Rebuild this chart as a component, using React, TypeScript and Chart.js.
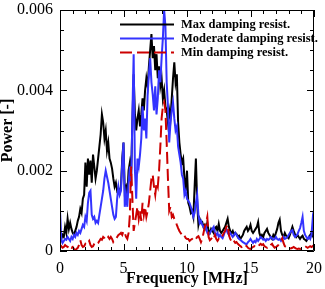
import React, { useEffect, useRef } from "react";
import { Chart, registerables } from "chart.js";

Chart.register(...registerables);

// Frequency samples [MHz]
const FREQ_MHZ = [
  0.0, 0.1, 0.2, 0.3, 0.4, 0.5, 0.6, 0.7, 0.8, 0.9,
  1.0, 1.1, 1.2, 1.3, 1.4, 1.5, 1.6, 1.7, 1.8, 1.9,
  2.0, 2.1, 2.2, 2.3, 2.4, 2.5, 2.6, 2.7, 2.8, 2.9,
  3.0, 3.1, 3.2, 3.3, 3.4, 3.5, 3.6, 3.7, 3.8, 3.9,
  4.0, 4.1, 4.2, 4.3, 4.4, 4.5, 4.6, 4.7, 4.8, 4.9,
  5.0, 5.1, 5.2, 5.3, 5.4, 5.5, 5.6, 5.7, 5.8, 5.9,
  6.0, 6.1, 6.2, 6.3, 6.4, 6.5, 6.6, 6.7, 6.8, 6.9,
  7.0, 7.1, 7.2, 7.3, 7.4, 7.5, 7.6, 7.7, 7.8, 7.9,
  8.0, 8.1, 8.2, 8.3, 8.4, 8.5, 8.6, 8.7, 8.8, 8.9,
  9.0, 9.1, 9.2, 9.3, 9.4, 9.5, 9.6, 9.7, 9.8, 9.9,
  10.0, 10.1, 10.2, 10.3, 10.4, 10.5, 10.6, 10.7, 10.8, 10.9,
  11.0, 11.1, 11.2, 11.3, 11.4, 11.5, 11.6, 11.7, 11.8, 11.9,
  12.0, 12.1, 12.2, 12.3, 12.4, 12.5, 12.6, 12.7, 12.8, 12.9,
  13.0, 13.1, 13.2, 13.3, 13.4, 13.5, 13.6, 13.7, 13.8, 13.9,
  14.0, 14.1, 14.2, 14.3, 14.4, 14.5, 14.6, 14.7, 14.8, 14.9,
  15.0, 15.1, 15.2, 15.3, 15.4, 15.5, 15.6, 15.7, 15.8, 15.9,
  16.0, 16.1, 16.2, 16.3, 16.4, 16.5, 16.6, 16.7, 16.8, 16.9,
  17.0, 17.1, 17.2, 17.3, 17.4, 17.5, 17.6, 17.7, 17.8, 17.9,
  18.0, 18.1, 18.2, 18.3, 18.4, 18.5, 18.6, 18.7, 18.8, 18.9,
  19.0, 19.1, 19.2, 19.3, 19.4, 19.5, 19.6, 19.7, 19.8, 19.9,
  20.0,
];

// Power values in units of 1e-3 [-]
const MAX_DAMPING = [
  0.45, 0.3, 0.4, 0.35, 0.6, 0.45, 0.8, 0.55, 0.7, 0.55,
  0.45, 0.4, 0.5, 0.6, 0.75, 0.85, 1.05, 0.95, 1.3, 1.4,
  2.2, 1.6, 2.3, 1.9, 2.25, 1.7, 2.4, 2.1, 1.8, 2.0,
  2.3, 2.6, 2.9, 3.4, 3.2, 2.8, 3.0, 2.5, 2.7, 2.3,
  2.2, 2.05, 1.8, 1.6, 1.7, 1.5, 1.55, 1.45, 1.6, 2.3,
  2.7, 1.5, 1.6, 1.4, 2.0, 2.2, 1.9, 3.2, 4.4, 3.4,
  3.0, 3.3, 3.5, 3.1, 3.4, 3.8, 3.5, 4.0, 4.3, 4.1,
  4.6, 5.0, 5.4, 4.8, 5.1, 4.5, 4.9, 4.3, 4.6, 4.1,
  4.3, 3.8, 4.0, 3.6, 3.5, 3.2, 3.5, 3.3, 3.8, 4.3,
  4.7, 4.2, 4.4, 3.2, 2.7, 2.4, 2.2, 2.3, 1.8, 1.5,
  2.0, 1.2, 1.1, 0.95, 1.0, 0.85, 1.6, 2.3, 1.2, 0.65,
  0.8, 0.7, 0.72, 0.6, 0.65, 0.55, 0.7, 0.5, 0.45, 0.55,
  0.5, 0.45, 0.57, 0.6, 0.5, 0.67, 0.5, 0.45, 0.5, 0.55,
  0.6, 0.7, 0.8, 0.6, 0.5, 0.45, 0.5, 0.4, 0.45, 0.42,
  0.35, 0.38, 0.3, 0.35, 0.4, 0.5, 0.55, 0.6, 0.5, 0.55,
  0.65, 0.5, 0.45, 0.5, 0.55, 0.6, 0.72, 0.45, 0.35, 0.4,
  0.35, 0.45, 0.5, 0.55, 0.45, 0.4, 0.35, 0.3, 0.4, 0.35,
  0.45, 0.55, 0.7, 0.78, 0.5, 0.4, 0.35, 0.45, 0.38, 0.35,
  0.32, 0.4, 0.5, 0.6, 0.5, 0.42, 0.35, 0.4, 0.35, 0.3,
  0.35, 0.38, 0.3, 0.28, 0.25, 0.3, 0.35, 0.4, 0.45, 0.38,
  0.6,
];

const MODERATE_DAMPING = [
  1.0, 0.3, 0.2, 0.25, 0.3, 0.28, 0.35, 0.3, 0.25, 0.35,
  0.3, 0.4, 0.35, 0.45, 0.4, 0.5, 0.45, 0.55, 0.65, 0.6,
  0.85, 0.75, 1.2, 1.45, 1.5, 0.9, 0.8, 0.85, 0.7, 0.75,
  0.7, 0.9, 1.1, 1.3, 1.5, 1.8, 2.0, 1.85, 1.7, 1.5,
  1.3, 1.1, 0.9, 0.8, 0.85, 1.3, 1.6, 1.4, 1.5, 2.2,
  2.7, 1.1, 1.4, 1.1, 1.7, 2.1, 1.6, 3.4, 4.9, 2.0,
  1.3, 2.3, 2.1, 2.4, 2.8, 3.6, 3.0, 3.3, 2.8, 3.9,
  4.4, 4.8, 4.2, 3.9, 3.5, 4.1, 3.4, 3.8, 4.5, 4.2,
  4.8, 5.3, 6.0, 5.6, 4.2, 3.6, 2.7, 3.2, 3.5, 3.7,
  3.3, 3.0, 3.1, 2.6, 2.4, 2.2, 1.9, 1.8, 1.4, 1.5,
  1.3, 1.25, 1.2, 1.1, 1.0, 0.85, 0.95, 1.2, 1.4, 0.9,
  0.7, 0.75, 0.65, 0.6, 0.55, 0.6, 0.45, 0.4, 0.45, 0.5,
  0.55, 0.6, 0.45, 0.4, 0.45, 0.35, 0.4, 0.35, 0.32, 0.4,
  0.5, 0.55, 0.45, 0.4, 0.45, 0.4, 0.35, 0.4, 0.45, 0.4,
  0.35, 0.3, 0.28, 0.25, 0.22, 0.2, 0.18, 0.17, 0.22, 0.25,
  0.3, 0.25, 0.2, 0.25, 0.22, 0.3, 0.25, 0.3, 0.35, 0.32,
  0.28, 0.3, 0.25, 0.3, 0.28, 0.3, 0.35, 0.32, 0.28, 0.3,
  0.35, 0.3, 0.28, 0.3, 0.25, 0.3, 0.35, 0.3, 0.32, 0.35,
  0.4, 0.45, 0.5, 0.52, 0.4, 0.35, 0.38, 0.42, 0.5, 0.57,
  0.7, 0.85, 0.5, 0.4, 0.35, 0.3, 0.35, 0.3, 0.4, 0.8,
  0.6,
];

const MIN_DAMPING = [
  0.15, 0.12, 0.08, 0.1, 0.15, 0.12, 0.1, 0.15, 0.1, 0.08,
  0.1, 0.05, 0.03, 0.05, 0.08, 0.15, 0.27, 0.15, 0.1, 0.12,
  0.18, 0.15, 0.2, 0.25, 0.15, 0.1, 0.12, 0.18, 0.22, 0.18,
  0.2, 0.25, 0.3, 0.28, 0.35, 0.32, 0.27, 0.3, 0.35, 0.3,
  0.35, 0.3, 0.22, 0.25, 0.3, 0.35, 0.4, 0.42, 0.45, 0.4,
  0.5, 0.45, 0.35, 0.3, 0.45, 0.9, 2.1, 1.3, 0.5, 0.7,
  0.9, 1.1, 0.8, 1.0, 0.75, 1.2, 0.9, 1.1, 0.85, 1.0,
  1.2, 1.5, 1.8, 1.9, 1.6, 1.4, 1.7, 1.6, 2.0, 2.6,
  3.3, 3.6, 3.7, 3.5, 2.7, 1.8, 1.0, 1.1, 0.85, 0.9,
  0.8, 0.75, 0.65, 0.57, 0.5, 0.45, 0.4, 0.35, 0.38, 0.32,
  0.3, 0.3, 0.25, 0.28, 0.3, 0.27, 0.25, 0.3, 0.35, 0.37,
  0.3, 0.22, 0.3, 0.45, 0.6, 0.7, 0.85, 0.35, 0.27, 0.3,
  0.35, 0.3, 0.4, 0.3, 0.25, 0.3, 0.28, 0.35, 0.38, 0.45,
  0.5, 0.6, 0.65, 0.4, 0.3, 0.25, 0.3, 0.25, 0.2, 0.22,
  0.18, 0.15, 0.12, 0.1, 0.12, 0.1, 0.15, 0.12, 0.08, 0.06,
  0.05, 0.08, 0.1, 0.12, 0.1, 0.12, 0.1, 0.15, 0.18, 0.15,
  0.17, 0.12, 0.1, 0.08, 0.12, 0.1, 0.15, 0.18, 0.12, 0.08,
  0.1, 0.12, 0.15, 0.2, 0.25, 0.32, 0.2, 0.12, 0.1, 0.08,
  0.06, 0.05, 0.07, 0.08, 0.1, 0.08, 0.06, 0.05, 0.06, 0.05,
  0.06, 0.08, 0.1, 0.12, 0.1, 0.08, 0.1, 0.12, 0.1, 0.12,
  0.15,
];

const SERIES_LABELS = ["Max damping resist.", "Moderate damping resist.", "Min damping resist."];
const SERIES_COLORS = ["#000000", "#3333ff", "#cc0000"];
const X_TICKS = [0, 5, 10, 15, 20];
const Y_TICKS = [0, 0.002, 0.004, 0.006];
const Y_TICK_LABELS = ["0", "0.002", "0.004", "0.006"];
const X_TITLE = "Frequency [MHz]";
const Y_TITLE = "Power [-]";

const FONT = "'Liberation Serif', 'Times New Roman', serif";

const toPoints = (vals: number[]) => vals.map((v, i) => ({ x: FREQ_MHZ[i], y: v / 1000 }));

const frameTicksPlugin = {
  id: "frameTicks",
  afterDatasetsDraw(chart: any) {
    const { ctx, chartArea: a, scales } = chart;
    const xs = scales.x;
    const ys = scales.y;
    ctx.save();
    ctx.strokeStyle = "#000";
    ctx.lineWidth = 1;
    ctx.beginPath();
    ctx.rect(Math.round(a.left) + 0.5, Math.round(a.top) + 0.5, Math.round(a.right - a.left) - 1, Math.round(a.bottom - a.top) - 1);
    ctx.stroke();
    ctx.beginPath();
    for (let v = 0; v <= 20 + 1e-9; v += 1) {
      const px = Math.round(xs.getPixelForValue(v)) + 0.5;
      const len = Math.abs(v % 5) < 1e-9 ? 7 : 4;
      ctx.moveTo(px, a.bottom);
      ctx.lineTo(px, a.bottom - len);
      ctx.moveTo(px, a.top);
      ctx.lineTo(px, a.top + len);
    }
    for (let k = 0; k <= 12; k++) {
      const v = k * 0.0005;
      const py = Math.round(ys.getPixelForValue(v)) + 0.5;
      const len = k % 4 === 0 ? 7 : 4;
      ctx.moveTo(a.left, py);
      ctx.lineTo(a.left + len, py);
      ctx.moveTo(a.right, py);
      ctx.lineTo(a.right - len, py);
    }
    ctx.stroke();
    ctx.restore();
  },
};

const legendPlugin = {
  id: "insideLegend",
  afterDraw(chart: any) {
    const { ctx, chartArea: a } = chart;
    ctx.save();
    ctx.font = `bold 12.5px ${FONT}`;
    ctx.textBaseline = "middle";
    ctx.textAlign = "left";
    chart.data.datasets.forEach((ds: any, i: number) => {
      const y = Math.round(a.top + 14 + i * 14) + 0.5;
      ctx.strokeStyle = ds.borderColor;
      ctx.lineWidth = 2;
      ctx.setLineDash(ds.borderDash || []);
      ctx.beginPath();
      ctx.moveTo(a.left + 60, y);
      ctx.lineTo(a.left + 114, y);
      ctx.stroke();
      ctx.setLineDash([]);
      ctx.fillStyle = "#000";
      ctx.fillText(ds.label, a.left + 121, y);
    });
    ctx.restore();
  },
};

export default function App() {
  const ref = useRef<HTMLCanvasElement | null>(null);

  useEffect(() => {
    if (!ref.current) return;
    const chart = new Chart(ref.current, {
      type: "line",
      data: {
        datasets: [
          {
            label: SERIES_LABELS[0],
            data: toPoints(MAX_DAMPING),
            borderColor: SERIES_COLORS[0],
            borderWidth: 2,
            pointRadius: 0,
            tension: 0,
            order: 3,
          },
          {
            label: SERIES_LABELS[1],
            data: toPoints(MODERATE_DAMPING),
            borderColor: SERIES_COLORS[1],
            borderWidth: 2,
            pointRadius: 0,
            tension: 0,
            order: 2,
          },
          {
            label: SERIES_LABELS[2],
            data: toPoints(MIN_DAMPING),
            borderColor: SERIES_COLORS[2],
            borderWidth: 2,
            borderDash: [12, 5],
            pointRadius: 0,
            tension: 0,
            order: 1,
          },
        ],
      },
      options: {
        animation: false,
        responsive: false,
        events: [],
        layout: { padding: { left: 0, right: 11, top: 10, bottom: 0 } },
        plugins: { legend: { display: false }, tooltip: { enabled: false } },
        scales: {
          x: {
            type: "linear",
            min: 0,
            max: 20,
            grid: { display: false, drawTicks: false },
            border: { display: false },
            afterBuildTicks: (s: any) => {
              s.ticks = X_TICKS.map((v) => ({ value: v }));
            },
            afterFit: (s: any) => {
              s.height = 38;
              s.paddingLeft = 0;
              s.paddingRight = 0;
            },
            ticks: {
              color: "#000",
              padding: 10,
              maxRotation: 0,
              font: { family: FONT, size: 16, lineHeight: 1 },
            },
            title: {
              display: true,
              text: X_TITLE,
              color: "#000",
              padding: { top: 0, bottom: 2 },
              font: { family: FONT, size: 16, weight: "bold", lineHeight: 1 },
            },
          },
          y: {
            type: "linear",
            min: 0,
            max: 0.006,
            grid: { display: false, drawTicks: false },
            border: { display: false },
            afterBuildTicks: (s: any) => {
              s.ticks = Y_TICKS.map((v) => ({ value: v }));
            },
            afterFit: (s: any) => {
              s.width = 60;
              s.paddingTop = 0;
              s.paddingBottom = 0;
            },
            ticks: {
              color: "#000",
              padding: 7,
              font: { family: FONT, size: 16 },
              callback: (_v: any, i: number) => Y_TICK_LABELS[i],
            },
            title: {
              display: true,
              text: Y_TITLE,
              color: "#000",
              padding: { top: 0, bottom: 0 },
              font: { family: FONT, size: 16, weight: "bold", lineHeight: 1 },
            },
          },
        },
      },
      plugins: [frameTicksPlugin, legendPlugin],
    });
    return () => chart.destroy();
  }, []);

  return (
    <div style={{ position: "absolute", left: 0, top: 0, width: 325, height: 289, background: "#fff" }}>
      <canvas ref={ref} width={325} height={289} />
    </div>
  );
}
